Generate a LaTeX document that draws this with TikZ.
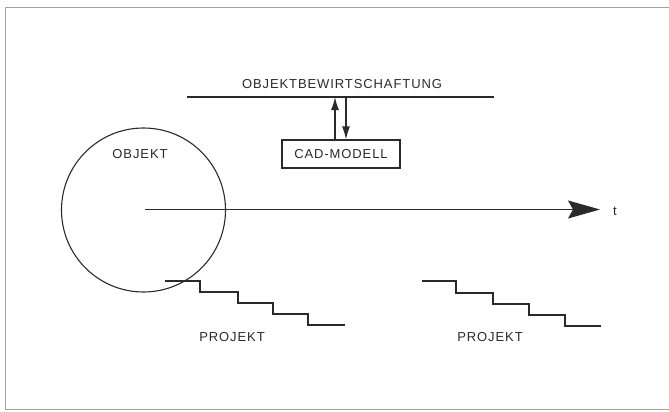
\documentclass[tikz,border=0pt]{standalone}
\usepackage{fontspec}
\setmainfont{Liberation Sans}[LetterSpace=7]
\usetikzlibrary{arrows.meta}
\definecolor{ink}{HTML}{2A2A2A}
\definecolor{framec}{HTML}{A0A0A0}
\tikzset{
  lbl/.style={font=\fontsize{13}{15}\selectfont, text=ink, inner sep=0pt},
  ln/.style={draw=ink, line width=1.2pt},
  small/.style={ln, -{Latex[length=13pt,width=8pt]}},
  stair/.style={ln, line width=1.1pt}
}
\begin{document}
\begin{tikzpicture}[x=1pt,y=-1pt]
\useasboundingbox (0,0) rectangle (669,412);
% frame
\draw[framec, line width=0.9pt] (669,7) -- (5,7) -- (5,409) -- (669,409);
% top line and title
\node[lbl] (title) at (342,84) {OBJEKTBEWIRTSCHAFTUNG};
\coordinate (la) at (187,97);
\coordinate (lb) at (494,97);
\draw[ln] (la) -- (lb);
% CAD box
\node[lbl, draw=ink, line width=1.2pt, minimum width=118pt, minimum height=28pt] (cad) at (341,154) {CAD-MODELL};
\coordinate (ua) at (335,97);
\coordinate (da) at (346,97);
\draw[small] (cad.north -| ua) -- (ua);
\draw[small] (da) -- (cad.north -| da);
% object circle
\node[circle, draw=ink, line width=1.1pt, minimum size=164pt, inner sep=0pt] (obj) at (143.5,210) {};
\node[lbl] (objlbl) at (140,154) {OBJEKT};
% time axis
\coordinate (t0) at (145,209.5);
\coordinate (tip) at (600,209.5);
\draw[ln, -{Stealth[length=32pt,width=18pt,inset=5pt]}, fill=ink] (t0) -- (tip);
\node[lbl] (t) at (615,211) {t};
% staircases
\coordinate (s1) at (165,281);
\draw[stair] (s1) -- (200,281) -- (200,292) -- (238,292) -- (238,303) -- (273,303) -- (273,314) -- (308,314) -- (308,325) -- (345,325);
\coordinate (s2) at (422,281);
\draw[stair] (s2) -- (456,281) -- (456,293) -- (493,293) -- (493,304) -- (529,304) -- (529,315) -- (565,315) -- (565,326) -- (601,326);
\node[lbl] (p1) at (232,337) {PROJEKT};
\node[lbl] (p2) at (490,337) {PROJEKT};
\end{tikzpicture}
\end{document}
